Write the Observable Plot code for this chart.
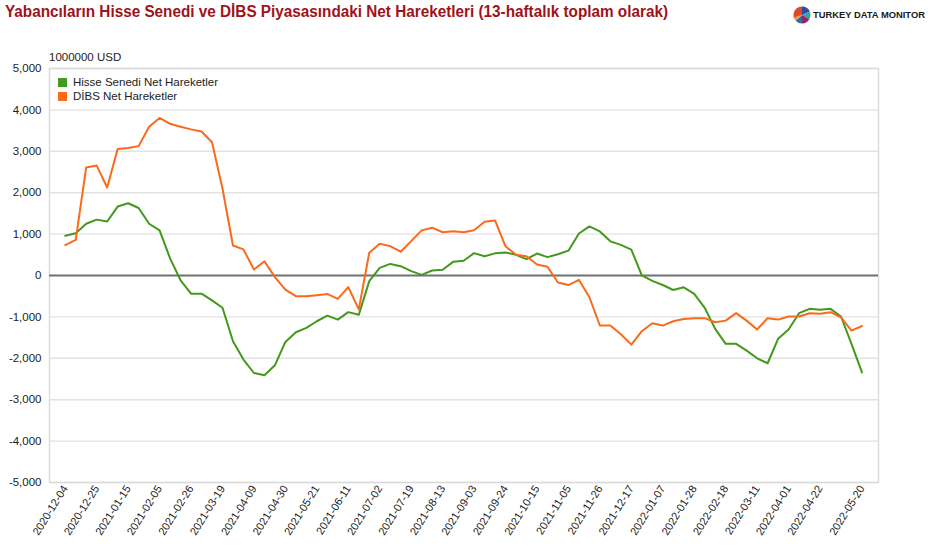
<!DOCTYPE html>
<html><head><meta charset="utf-8">
<script src="https://cdn.jsdelivr.net/npm/d3@7"></script>
<script src="https://cdn.jsdelivr.net/npm/@observablehq/plot@0.6"></script>
<style>
html,body{margin:0;padding:0;background:#fff;}
#wrap{position:relative;width:936px;height:550px;overflow:hidden;font-family:"Liberation Sans",Arial,sans-serif;}
#chart{position:absolute;left:0;top:0;}
.abs{position:absolute;}
.leg{position:absolute;left:58px;font-size:11.5px;color:#222;line-height:14px;white-space:nowrap;}
.leg span.sw{display:inline-block;width:9px;height:9px;margin-right:6px;vertical-align:-0.5px;}
</style></head><body>
<div id="wrap">
  <div id="chart"></div>
  <svg id="head" class="abs" style="left:0;top:0" width="936" height="66"></svg>
  <div class="leg" style="top:75px"><span class="sw" style="background:#43991c"></span>Hisse Senedi Net Hareketler</div>
  <div class="leg" style="top:89px"><span class="sw" style="background:#fb6a1a"></span>DİBS Net Hareketler</div>
</div>
<script>
const dates = ["2020-12-04","2020-12-11","2020-12-18","2020-12-25","2021-01-01","2021-01-08","2021-01-15","2021-01-22","2021-01-29","2021-02-05",
"2021-02-12","2021-02-19","2021-02-26","2021-03-05","2021-03-12","2021-03-19","2021-03-26","2021-04-02","2021-04-09","2021-04-16",
"2021-04-23","2021-04-30","2021-05-07","2021-05-14","2021-05-21","2021-05-28","2021-06-04","2021-06-11","2021-06-18","2021-06-25",
"2021-07-02","2021-07-09","2021-07-16","2021-07-19","2021-07-30","2021-08-06","2021-08-13","2021-08-20","2021-08-27","2021-09-03",
"2021-09-10","2021-09-17","2021-09-24","2021-10-01","2021-10-08","2021-10-15","2021-10-22","2021-10-29","2021-11-05","2021-11-12",
"2021-11-19","2021-11-26","2021-12-03","2021-12-10","2021-12-17","2021-12-24","2021-12-31","2022-01-07","2022-01-14","2022-01-21",
"2022-01-28","2022-02-04","2022-02-11","2022-02-18","2022-02-25","2022-03-04","2022-03-11","2022-03-18","2022-03-25","2022-04-01",
"2022-04-08","2022-04-15","2022-04-22","2022-04-29","2022-05-06","2022-05-13","2022-05-20"];

const hisse = [960,1020,1250,1350,1305,1665,1745,1630,1250,1090,
415,-115,-440,-440,-600,-780,-1590,-2030,-2355,-2410,
-2170,-1605,-1370,-1265,-1105,-970,-1065,-885,-950,-135,
185,280,225,105,15,120,140,330,355,540,
467,535,555,500,395,530,443,515,600,1015,
1185,1065,825,740,625,5,-130,-230,-350,-285,
-445,-780,-1290,-1650,-1650,-1815,-2000,-2120,-1530,-1305,
-910,-805,-825,-805,-990,-1650,-2340];

const dibs = [735,860,2610,2655,2125,3055,3080,3125,3595,3805,
3665,3595,3530,3480,3220,2100,725,630,145,345,
-40,-340,-500,-500,-475,-445,-565,-280,-820,550,
765,710,575,830,1090,1155,1045,1070,1045,1095,
1300,1330,705,500,463,265,210,-170,-230,-105,
-525,-1208,-1210,-1420,-1670,-1345,-1155,-1210,-1105,-1050,
-1030,-1030,-1130,-1090,-910,-1090,-1305,-1030,-1065,-990,
-990,-910,-925,-885,-1010,-1330,-1220];

const tickLabels = ["2020-12-04","2020-12-25","2021-01-15","2021-02-05","2021-02-26","2021-03-19","2021-04-09","2021-04-30","2021-05-21","2021-06-11",
"2021-07-02","2021-07-19","2021-08-13","2021-09-03","2021-09-24","2021-10-15","2021-11-05","2021-11-26","2021-12-17","2022-01-07",
"2022-01-28","2022-02-18","2022-03-11","2022-04-01","2022-04-22","2022-05-20"];

const yTicks = [-5000,-4000,-3000,-2000,-1000,0,1000,2000,3000,4000,5000];

const seriesNames = ["Hisse Senedi Net Hareketler","DİBS Net Hareketler"];
const seriesColors = ["#43991c","#fb6a1a"];

const rowsH = dates.map((d,i)=>({date:d, value:hisse[i]}));
const rowsD = dates.map((d,i)=>({date:d, value:dibs[i]}));
const fmt = d => d3.format(",")(d).replace("\u2212","-");

const plot = Plot.plot({
  width: 936, height: 550,
  marginLeft: 49, marginRight: 58, marginTop: 68, marginBottom: 68,
  style: {fontFamily: "'Liberation Sans', Arial, sans-serif", background: "transparent", color:"#222"},
  x: {type: "point", domain: dates, range: [59.5, 866.7]},
  y: {domain: [-5000, 5000]},
  marks: [
    Plot.ruleY(yTicks.filter(t=>t!==0), {stroke: "#e2e2e2", strokeWidth: 1.4}),
    Plot.frame({stroke: "#dadada", strokeWidth: 1.4}),
    Plot.ruleY([0], {stroke: "#707070", strokeWidth: 2}),
    Plot.line(rowsH, {x: "date", y: "value", stroke: seriesColors[0], strokeWidth: 2}),
    Plot.line(rowsD, {x: "date", y: "value", stroke: seriesColors[1], strokeWidth: 2}),
    Plot.axisY({ticks: yTicks, tickSize: 0, tickPadding: 8, tickFormat: fmt, fontSize: 11.5, fill: "#222", label: null}),
    Plot.axisX({ticks: tickLabels, tickSize: 0, tickPadding: 4, tickRotate: -58, fontSize: 11, fill: "#222", label: null})
  ]
});
document.getElementById("chart").appendChild(plot);

// header: title, unit label, logo
const head = d3.select("#head");
head.append("text").attr("x",5).attr("y",17)
  .attr("font-family","'Liberation Sans Narrow','Arial Narrow','Liberation Sans',Arial,sans-serif")
  .attr("font-weight","bold").attr("font-size",16).attr("fill","#a0121a")
  .attr("textLength",663).attr("lengthAdjust","spacingAndGlyphs")
  .text("Yabancıların Hisse Senedi ve DİBS Piyasasındaki Net Hareketleri (13-haftalık toplam olarak)");
head.append("text").attr("x",49).attr("y",60.5)
  .attr("font-family","'Liberation Sans',Arial,sans-serif").attr("font-size",11.5).attr("fill","#222")
  .text("1000000 USD");
head.append("text").attr("x",813).attr("y",17.5)
  .attr("font-family","'Liberation Sans',Arial,sans-serif").attr("font-weight","bold").attr("font-size",9.4).attr("fill","#1a1a1a")
  .text("TURKEY DATA MONITOR");
const logoColors = ["#3048b0","#36a89a","#8a2a6a","#2a6cb5","#f0a030","#dd4a2c"];
const pie = d3.pie().sort(null)([1.1,0.9,1,0.8,0.4,1.8]);
const arc = d3.arc().innerRadius(0).outerRadius(8.5);
const g = head.append("g").attr("transform","translate(802,15)");
g.selectAll("path").data(pie).join("path").attr("d",arc).attr("fill",(d,i)=>logoColors[i]);
</script>
</body></html>
